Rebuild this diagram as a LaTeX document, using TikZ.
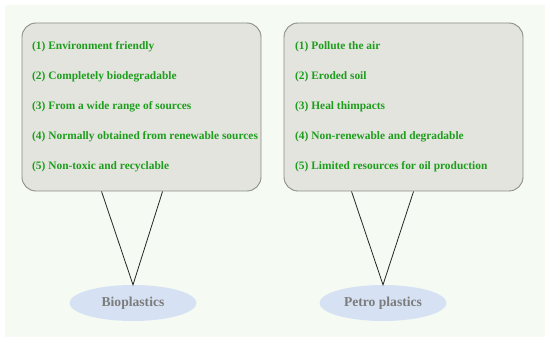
\documentclass[tikz,border=0pt]{standalone}
\usepackage{fontspec}
\setmainfont{Liberation Serif}
\usetikzlibrary{positioning,calc,shapes.geometric}
\definecolor{bgpaper}{HTML}{F5FAF3}
\definecolor{boxfill}{HTML}{E4E4DE}
\definecolor{boxline}{HTML}{8C8C88}
\definecolor{itemgreen}{HTML}{1C9E1C}
\definecolor{ovalfill}{HTML}{D6E2F4}
\definecolor{ovaltext}{HTML}{7C7C7C}
\tikzset{
  listbox/.style={draw=boxline, fill=boxfill, rounded corners=14pt, line width=0.9pt,
    minimum width=239pt, minimum height=168pt, inner sep=0pt},
  item/.style={font=\bfseries\fontsize{11.4}{13}\selectfont, text=itemgreen, anchor=west, inner sep=0pt},
  oval/.style={ellipse, fill=ovalfill, minimum width=127pt, minimum height=36pt, inner sep=0pt,
    font=\bfseries\fontsize{13.6}{15}\selectfont, text=ovaltext},
  vline/.style={line width=0.8pt, black!85},
}
\begin{document}
\begin{tikzpicture}[x=1pt,y=-1pt]
\useasboundingbox (0,0) rectangle (550,342);
\fill[bgpaper] (5,5) rectangle (545,337);
\node[listbox] (boxbio) at (141.5,107) {};
\node[listbox] (boxpetro) at (403.5,107) {};
\foreach \t [count=\i] in {(1) Environment friendly,(2) Completely biodegradable,(3) From a wide range of sources,(4) Normally obtained from renewable sources,(5) Non-toxic and recyclable}
  \node[item] (bio\i) at (32,{17+30*\i}) {\t};
\foreach \t [count=\i] in {(1) Pollute the air,(2) Eroded soil,(3) Heal thimpacts,(4) Non-renewable and degradable,(5) Limited resources for oil production}
  \node[item] (petro\i) at (295,{17+30*\i}) {\t};
\node[oval] (bio) at (133,303) {Bioplastics};
\node[oval] (petro) at (383,303) {Petro plastics};
\coordinate (bioA) at ($(boxbio.south west)+(80,0)$);
\coordinate (bioB) at ($(boxbio.south west)+(141,0)$);
\coordinate (petroA) at ($(boxpetro.south west)+(68,0)$);
\coordinate (petroB) at ($(boxpetro.south west)+(130,0)$);
\draw[vline] (bioA) -- (bio.north) -- (bioB);
\draw[vline] (petroA) -- (petro.north) -- (petroB);
\end{tikzpicture}
\end{document}
